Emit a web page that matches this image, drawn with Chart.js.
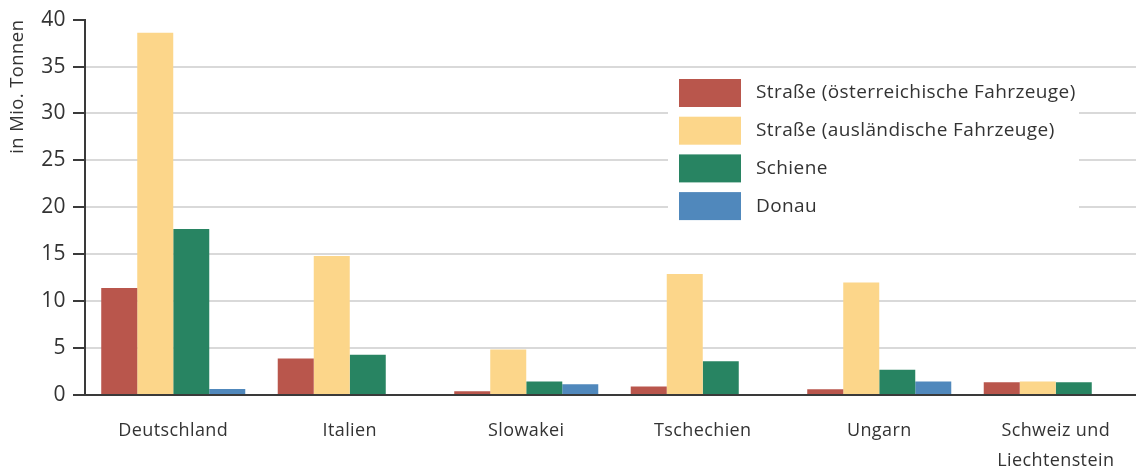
<!DOCTYPE html>
<html><head><meta charset="utf-8">
<script src="https://cdn.jsdelivr.net/npm/chart.js@4.4.1/dist/chart.umd.min.js"></script>
<style>html,body{margin:0;padding:0;overflow:hidden;background:#fff}canvas{display:block}</style>
</head><body>
<canvas id="c" width="1150" height="473"></canvas>
<script>
const categories = ["Deutschland", "Italien", "Slowakei", "Tschechien", "Ungarn", ["Schweiz und", "Liechtenstein"]];
const seriesNames = ["Straße (österreichische Fahrzeuge)", "Straße (ausländische Fahrzeuge)", "Schiene", "Donau"];
const strasseAT = [11.4, 3.9, 0.4, 0.9, 0.6, 1.35];
const strasseAusl = [38.6, 14.8, 4.85, 12.9, 12.0, 1.45];
const schiene = [17.7, 4.3, 1.45, 3.6, 2.7, 1.35];
const donau = [0.65, 0, 1.15, 0, 1.45, 0];
const colors = ["#B9564C", "#FCD68A", "#288462", "#5088BC"];
const FONT = "'Open Sans', Lato, sans-serif";
const TXT = "#333333";
const SPACING = '0.4px';

const spacingPlugin = {
  id: 'spacing',
  beforeLayout(chart) { chart.ctx.letterSpacing = SPACING; },
  beforeDraw(chart) { chart.ctx.letterSpacing = SPACING; }
};

const legendPlugin = {
  id: 'insideLegend',
  afterDatasetsDraw(chart) {
    const ctx = chart.ctx;
    ctx.save();
    ctx.fillStyle = '#fff';
    ctx.fillRect(668, 70, 411, 160);
    chart.data.datasets.forEach((ds, i) => {
      const y = 79 + i * 37.7;
      ctx.fillStyle = ds.backgroundColor;
      ctx.fillRect(679, y, 62, 28);
      ctx.fillStyle = TXT;
      ctx.font = "19px " + FONT;
      ctx.letterSpacing = SPACING;
      ctx.textBaseline = 'middle';
      ctx.textAlign = 'left';
      ctx.fillText(ds.label, 756, y + 14);
    });
    ctx.restore();
  }
};

new Chart(document.getElementById('c'), {
  type: 'bar',
  data: {
    labels: categories,
    datasets: [
      {label: seriesNames[0], data: strasseAT, backgroundColor: colors[0]},
      {label: seriesNames[1], data: strasseAusl, backgroundColor: colors[1]},
      {label: seriesNames[2], data: schiene, backgroundColor: colors[2]},
      {label: seriesNames[3], data: donau, backgroundColor: colors[3]}
    ]
  },
  options: {
    responsive: false,
    animation: false,
    devicePixelRatio: 1,
    layout: {padding: {top: 17, right: 6, left: 0, bottom: 0}},
    datasets: {bar: {categoryPercentage: 0.816, barPercentage: 1.0, borderWidth: 0}},
    plugins: {legend: {display: false}, tooltip: {enabled: false}},
    scales: {
      x: {
        grid: {display: false, drawTicks: false},
        border: {display: true, color: '#3a3a3a', width: 2},
        ticks: {color: TXT, font: {family: FONT, size: 18, lineHeight: 1.65}, padding: 21, maxRotation: 0, autoSkip: false},
        afterFit(s) { s.height = 78; }
      },
      y: {
        min: 0, max: 40,
        ticks: {stepSize: 5, color: TXT, font: {family: FONT, size: 21}, padding: 7},
        grid: {
          color: (c) => (c.tick && c.tick.value === 40) ? 'rgba(0,0,0,0)' : '#d9d9d9',
          lineWidth: 2,
          tickColor: '#3a3a3a',
          tickLength: 12,
          tickWidth: 2
        },
        border: {display: true, color: '#3a3a3a', width: 2},
        title: {display: true, text: 'in Mio. Tonnen', align: 'end', color: TXT, font: {family: FONT, size: 18.5}, padding: {top: 7, bottom: 4}},
        afterFit(s) { s.width = 85; }
      }
    }
  },
  plugins: [spacingPlugin, legendPlugin]
});
</script>
</body></html>
